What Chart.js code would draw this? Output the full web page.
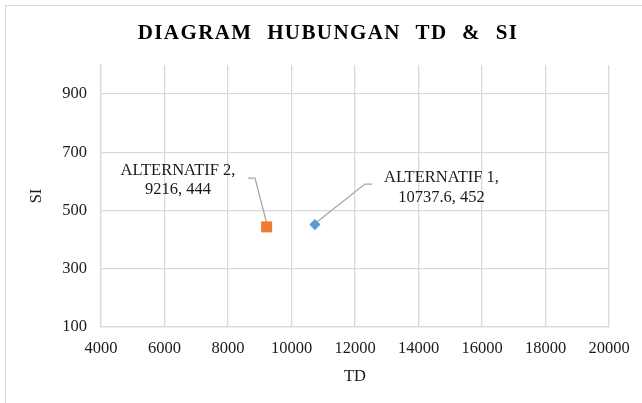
<!DOCTYPE html>
<html lang="id">
<head>
  <meta charset="UTF-8">
  <title>Diagram Hubungan TD & SI</title>
  <script src="https://cdn.jsdelivr.net/npm/chart.js"></script>
  <style>
    html, body {
      margin: 0;
      padding: 0;
      background: #fff;
      overflow: hidden;
    }

    .frame {
      position: absolute;
      left: 5px;
      top: 5px;
      width: 700px;
      height: 500px;
      border: 1px solid #d9d9d9;
    }

    .chart-box {
      position: absolute;
      left: 0;
      top: 0;
      width: 642px;
      height: 403px;
    }
  </style>
</head>
<body>
  <div class="frame"></div>
  <div class="chart-box"><canvas id="tdsi"></canvas></div>

  <script>
    // data
    const seriesNames = ['ALTERNATIF 1', 'ALTERNATIF 2'];
    const tdValues = [10737.6, 9216];
    const siValues = [452, 444];
    const xTickValues = [4000, 6000, 8000, 10000, 12000, 14000, 16000, 18000, 20000];
    const yTickValues = [100, 300, 500, 700, 900];
    const chartTitle = 'DIAGRAM HUBUNGAN TD & SI';

    const textColor = '#1a1a1a';
    const serif = '"Liberation Serif", "Times New Roman", serif';
    const baseFont = { family: serif, size: 16.5 };

    // label placement per series (offsets from the marker, in px)
    const labelPlace = [
      { dx: 126.6, dy: [-42.5, -22.5], leader: [[2, -2.5], [50, -40.5], [57, -40.5]] },
      { dx: -88.6, dy: [-52, -33], leader: [[0, -4], [-11.6, -48.8], [-18.6, -48.8]] }
    ];

    // title with spaced letters
    const titlePlugin = {
      id: 'spacedTitle',
      afterDraw(chart) {
        const ctx = chart.ctx;
        ctx.save();
        ctx.font = 'bold 21px ' + serif;
        ctx.fillStyle = '#000';
        ctx.textAlign = 'center';
        ctx.textBaseline = 'alphabetic';
        ctx.letterSpacing = '1.4px';
        if ('wordSpacing' in ctx) ctx.wordSpacing = '8px';
        ctx.fillText(chartTitle, 328, 39);
        ctx.restore();
      }
    };

    // data labels with leader lines
    const calloutPlugin = {
      id: 'callouts',
      beforeDatasetsDraw(chart) {
        const ctx = chart.ctx;
        ctx.save();
        ctx.strokeStyle = '#a6a6a6';
        ctx.lineWidth = 1.3;
        chart.data.datasets.forEach((ds, i) => {
          const pt = chart.getDatasetMeta(i).data[0];
          const p = labelPlace[i];
          ctx.beginPath();
          p.leader.forEach(([dx, dy], k) => {
            if (k === 0) ctx.moveTo(pt.x + dx, pt.y + dy);
            else ctx.lineTo(pt.x + dx, pt.y + dy);
          });
          ctx.stroke();
        });
        ctx.restore();
      },
      afterDatasetsDraw(chart) {
        const ctx = chart.ctx;
        ctx.save();
        ctx.font = baseFont.size + 'px ' + serif;
        ctx.fillStyle = textColor;
        ctx.textAlign = 'center';
        ctx.textBaseline = 'alphabetic';
        chart.data.datasets.forEach((ds, i) => {
          const pt = chart.getDatasetMeta(i).data[0];
          const p = labelPlace[i];
          const lines = [seriesNames[i] + ',', tdValues[i] + ', ' + siValues[i]];
          lines.forEach((t, k) => ctx.fillText(t, pt.x + p.dx, pt.y + p.dy[k]));
        });
        ctx.restore();
      }
    };

    new Chart(document.getElementById('tdsi').getContext('2d'), {
      type: 'scatter',
      data: {
        datasets: [
          {
            label: seriesNames[0],
            data: [{ x: tdValues[0], y: siValues[0] }],
            pointStyle: 'rectRot',
            pointRadius: 5.6,
            backgroundColor: '#5b9bd5',
            borderColor: '#5b9bd5',
            borderWidth: 0
          },
          {
            label: seriesNames[1],
            data: [{ x: tdValues[1], y: siValues[1] }],
            pointStyle: 'rect',
            pointRadius: 7.8,
            backgroundColor: '#ed7d31',
            borderColor: '#ed7d31',
            borderWidth: 0
          }
        ]
      },
      options: {
        responsive: true,
        maintainAspectRatio: false,
        animation: false,
        events: [],
        layout: { padding: { top: 65, right: 33, left: 0, bottom: 0 } },
        plugins: {
          legend: { display: false },
          tooltip: { enabled: false },
          title: { display: false }
        },
        scales: {
          x: {
            type: 'linear',
            min: 4000,
            max: 20000,
            afterBuildTicks: s => { s.ticks = xTickValues.map(v => ({ value: v })); },
            afterFit: s => { s.height = 76; },
            grid: { color: '#d9d9d9', lineWidth: 1.3, drawTicks: false },
            border: { color: '#d9d9d9', width: 1.3 },
            ticks: {
              padding: 12,
              maxRotation: 0,
              autoSkip: false,
              color: textColor,
              font: baseFont,
              callback: v => String(v)
            },
            title: {
              display: true,
              text: 'TD',
              color: textColor,
              font: baseFont,
              padding: { top: 0, bottom: 16 }
            }
          },
          y: {
            type: 'linear',
            min: 100,
            max: 1000,
            afterBuildTicks: s => { s.ticks = yTickValues.map(v => ({ value: v })); },
            afterFit: s => { s.width = 101; },
            grid: { color: '#d9d9d9', lineWidth: 1.3, drawTicks: false },
            border: { color: '#d9d9d9', width: 1.3 },
            ticks: {
              padding: 14,
              color: textColor,
              font: baseFont,
              callback: v => String(v)
            },
            title: {
              display: true,
              text: 'SI',
              color: textColor,
              font: baseFont,
              padding: { top: 27, bottom: 0 }
            }
          }
        }
      },
      plugins: [titlePlugin, calloutPlugin]
    });
  </script>
</body>
</html>
